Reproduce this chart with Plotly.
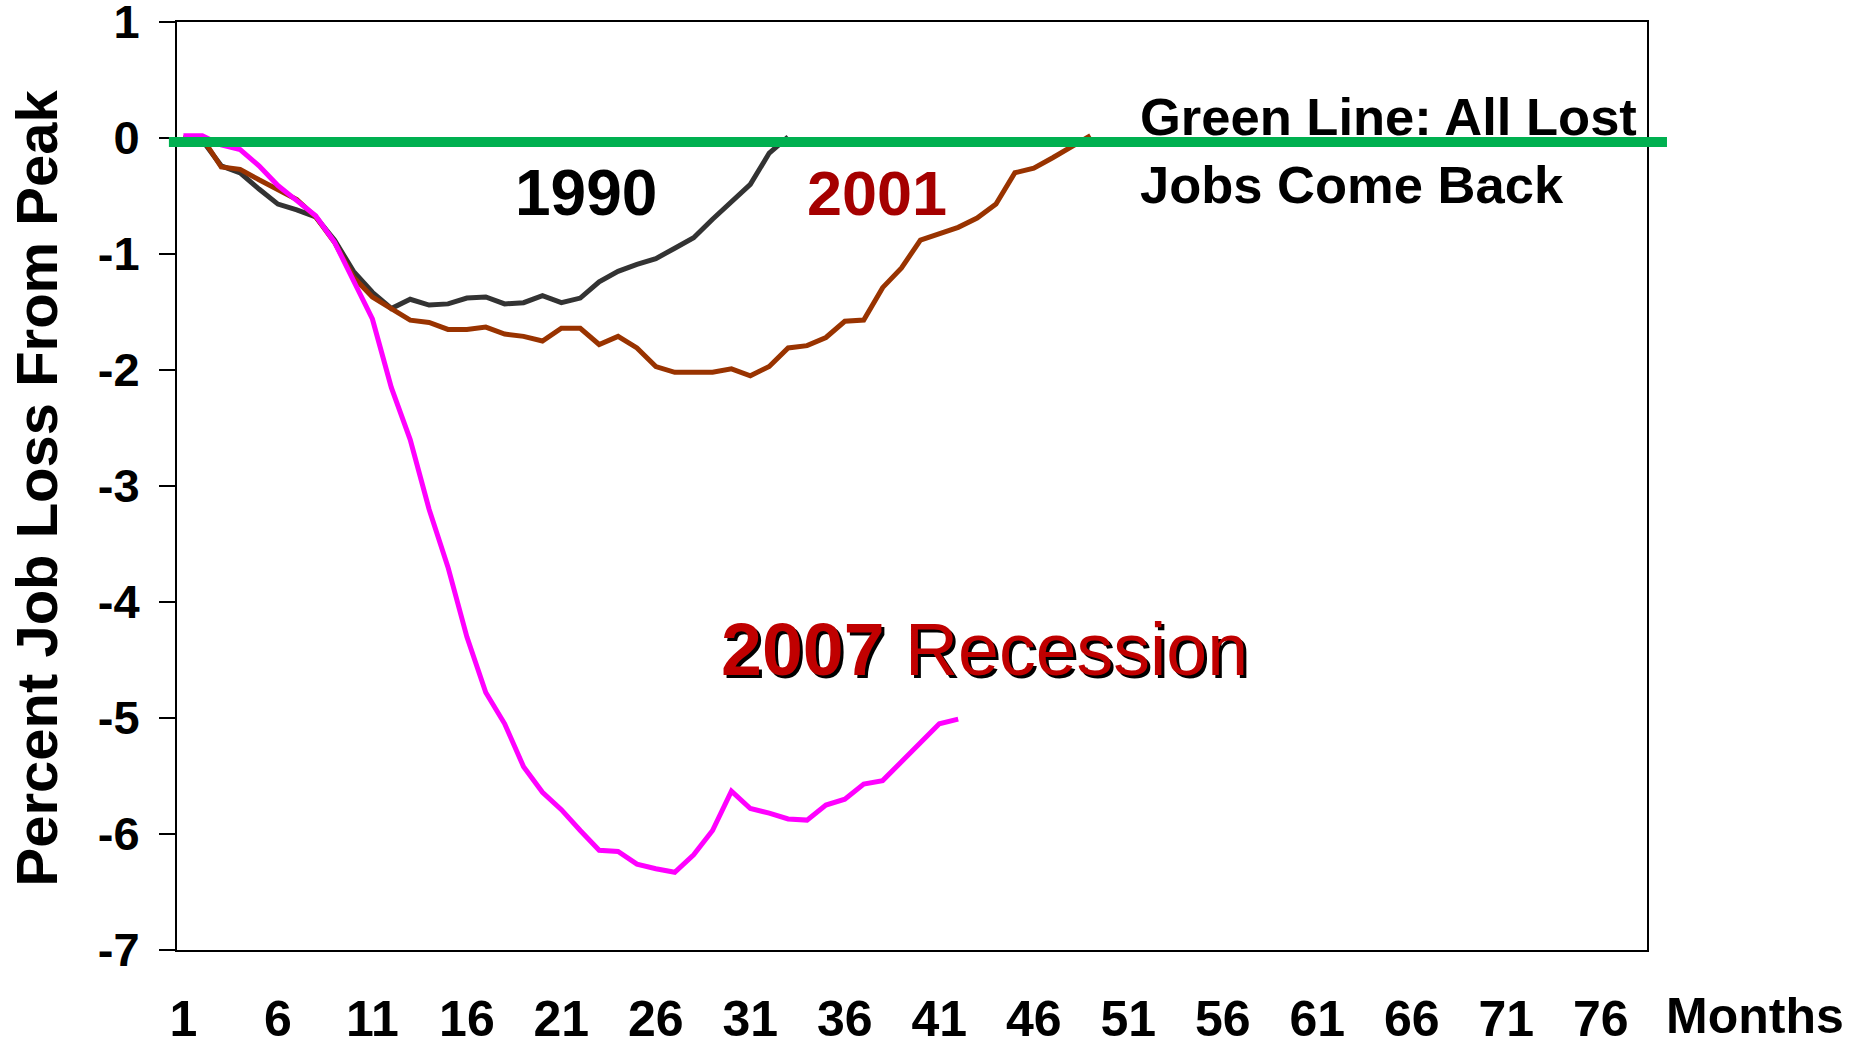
import plotly.graph_objects as go

# percent job loss from the employment peak, month 1 = peak month
jobs_1990 = [0.00, -0.02, -0.24, -0.30, -0.44, -0.57, -0.62, -0.68, -0.88, -1.15,
             -1.33, -1.47, -1.39, -1.44, -1.43, -1.38, -1.37, -1.43, -1.42, -1.36,
             -1.42, -1.38, -1.24, -1.15, -1.09, -1.04, -0.95, -0.86, -0.70, -0.55,
             -0.40, -0.13, 0.01]
jobs_2001 = [0.00, 0.00, -0.25, -0.27, -0.36, -0.45, -0.53, -0.68, -0.90, -1.20,
             -1.37, -1.47, -1.57, -1.59, -1.65, -1.65, -1.63, -1.69, -1.71, -1.75,
             -1.64, -1.64, -1.78, -1.71, -1.81, -1.97, -2.02, -2.02, -2.02, -1.99,
             -2.05, -1.97, -1.81, -1.79, -1.72, -1.58, -1.57, -1.29, -1.12, -0.88,
             -0.82, -0.77, -0.69, -0.57, -0.30, -0.26, -0.17, -0.08, 0.02]
jobs_2007 = [0.02, 0.02, -0.06, -0.10, -0.24, -0.41, -0.54, -0.67, -0.90, -1.23,
             -1.56, -2.15, -2.60, -3.20, -3.70, -4.30, -4.78, -5.05, -5.42, -5.64,
             -5.79, -5.97, -6.14, -6.15, -6.26, -6.30, -6.33, -6.18, -5.97, -5.63,
             -5.78, -5.82, -5.87, -5.88, -5.75, -5.70, -5.57, -5.54, -5.38, -5.21,
             -5.05, -5.01]

month_ticks = [1, 6, 11, 16, 21, 26, 31, 36, 41, 46, 51, 56, 61, 66, 71, 76]
pct_ticks = [1, 0, -1, -2, -3, -4, -5, -6, -7]
pct_labels = ["1", "0", "-1", "-2", "-3", "-4", "-5", "-6", "-7"]
recovery_level = 0

FONT = "Arial, Liberation Sans, sans-serif"


def months(vals):
    return list(range(1, len(vals) + 1))


fig = go.Figure()
fig.add_trace(go.Scatter(x=months(jobs_1990), y=jobs_1990, mode="lines",
                         line=dict(color="#333333", width=5), name="1990"))
fig.add_trace(go.Scatter(x=months(jobs_2001), y=jobs_2001, mode="lines",
                         line=dict(color="#993300", width=5), name="2001"))
fig.add_trace(go.Scatter(x=months(jobs_2007), y=jobs_2007, mode="lines",
                         line=dict(color="#FF00FF", width=5), name="2007"))

# green line: all lost jobs come back (runs a bit past the frame on both sides)
fig.add_shape(type="line", xref="paper", x0=-0.0055, x1=1.0136,
              yref="y", ysizemode="pixel", yanchor=recovery_level, y0=-4, y1=-4,
              line=dict(color="#00B050", width=10), layer="above")

fig.update_layout(
    width=1871, height=1046,
    margin=dict(l=177, r=224, t=22, b=96),
    plot_bgcolor="white", paper_bgcolor="white",
    showlegend=False,
    font=dict(family=FONT, color="black"),
    xaxis=dict(range=[0.66, 78.45], tickvals=month_ticks, ticks="",
               showline=True, linecolor="black", linewidth=2, mirror=True,
               showgrid=False, zeroline=False, ticklabelstandoff=24,
               automargin=False, ticklabeloverflow="allow",
               tickfont=dict(size=50, weight="bold", family=FONT)),
    yaxis=dict(range=[-7, 1], tickvals=pct_ticks, ticktext=pct_labels,
               ticks="outside", ticklen=16, tickwidth=2, tickcolor="black",
               showline=True, linecolor="black", linewidth=2, mirror=True,
               showgrid=False, zeroline=False, ticklabelstandoff=10,
               automargin=False, ticklabeloverflow="allow",
               tickfont=dict(size=47, weight="bold", family=FONT)),
)

fig.add_annotation(text="Percent Job Loss From Peak", xref="paper", yref="paper",
                   x=-0.0955, y=0.498, textangle=-90, showarrow=False,
                   xanchor="center", yanchor="middle",
                   font=dict(size=58, weight="bold", family=FONT, color="black"))
fig.add_annotation(text="Months", xref="paper", yref="paper", x=1.0735, y=-0.071,
                   showarrow=False, xanchor="center", yanchor="middle",
                   font=dict(size=50, weight="bold", family=FONT, color="black"))
fig.add_annotation(text="1990", xref="paper", yref="paper", x=0.278, y=0.816,
                   showarrow=False, xanchor="center", yanchor="middle",
                   font=dict(size=64, weight="bold", family=FONT, color="black"))
fig.add_annotation(text="2001", xref="paper", yref="paper", x=0.476, y=0.816,
                   showarrow=False, xanchor="center", yanchor="middle",
                   font=dict(size=63, weight="bold", family=FONT, color="#A50000"))
fig.add_annotation(text="Green Line: All Lost<br>Jobs Come Back", xref="paper", yref="paper",
                   x=0.6535, y=0.861, showarrow=False, xanchor="left", yanchor="middle",
                   align="left",
                   font=dict(size=52.5, weight="bold", family=FONT, color="black"))
# 2007 label with a black drop shadow
for dx, dy, col in [(3, -3, "black"), (0, 0, "#C00000")]:
    fig.add_annotation(text="<b>2007</b> Recession", xref="paper", yref="paper",
                       x=0.369, y=0.324, xshift=dx, yshift=dy, showarrow=False,
                       xanchor="left", yanchor="middle",
                       font=dict(size=73.5, family=FONT, color=col))

fig.write_html("out.html", config={"displayModeBar": False},
               post_script="document.body.style.margin='0';")
